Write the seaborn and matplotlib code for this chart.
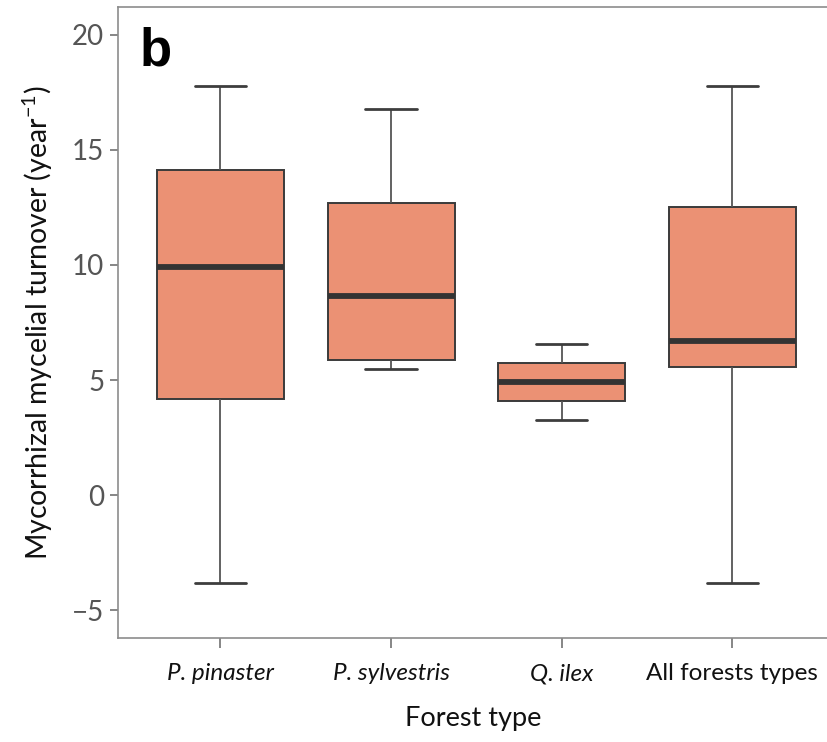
import numpy as np
import pandas as pd
import seaborn as sns
import matplotlib
matplotlib.use("Agg")
import matplotlib.pyplot as plt

# ---- data (five-number summaries) ----
categories = ["P. pinaster", "P. sylvestris", "Q. ilex", "All forests types"]
p_pinaster = [-3.83, 4.17, 9.91, 14.13, 17.78]
p_sylvestris = [5.48, 5.87, 8.65, 12.67, 16.78]
q_ilex = [3.27, 4.07, 4.90, 5.75, 6.55]
all_forests = [-3.83, 5.58, 6.71, 12.52, 17.78]
yticks = [-5, 0, 5, 10, 15, 20]

series = [p_pinaster, p_sylvestris, q_ilex, all_forests]
df = pd.DataFrame({
    "Forest type": np.repeat(categories, [len(s) for s in series]),
    "turnover": np.concatenate(series),
})

sns.set_theme(style="white")
plt.rcParams["font.family"] = ["Lato", "DejaVu Sans"]
plt.rcParams["mathtext.default"] = "regular"

fig = plt.figure(figsize=(8.28, 7.42), dpi=100)
ax = fig.add_axes([118 / 828, (742 - 638) / 742, 1 - 118 / 828, (638 - 7) / 742])

fill = "#EB9174"
edge = "#3a3a3a"
sns.boxplot(
    data=df, x="Forest type", y="turnover", order=categories,
    color=fill, saturation=1, width=0.745, whis=(0, 100), showfliers=False,
    linecolor=edge, linewidth=1.4, ax=ax,
    medianprops=dict(color="#333333", linewidth=4.2),
    whiskerprops=dict(color="#555555", linewidth=1.3),
    capprops=dict(color="#3d3d3d", linewidth=2.0),
    capwidths=0.30,
)

ax.set_xlim(-0.6, 3.56)
ax.set_ylim(-6.2, 21.2)
ax.set_yticks(yticks)
ax.set_yticklabels([str(t).replace("-", "\u2212") for t in yticks])

for side in ["left", "top", "bottom"]:
    ax.spines[side].set_visible(True)
    ax.spines[side].set_color("#8c8c8c")
    ax.spines[side].set_linewidth(1.2)
ax.spines["right"].set_visible(False)

ax.tick_params(axis="y", which="major", direction="out", length=6, width=1.1,
               color="#666666", labelsize=20, labelcolor="#555555", pad=4, left=True)
ax.tick_params(axis="x", which="major", direction="out", length=7, width=1.1,
               color="#666666", labelsize=17.5, labelcolor="#111111", pad=11, bottom=True)
for lab in ax.get_xticklabels():
    if lab.get_text() != "All forests types":
        lab.set_style("italic")

ax.set_xlabel("Forest type", fontsize=19.5, color="#111111", labelpad=16)
ax.set_ylabel("Mycorrhizal mycelial turnover (year$^{-1}$)", fontsize=20.5,
              color="#111111", labelpad=12)

fig.text(140 / 828, 1 - 65 / 742, "b", fontsize=38, fontweight="bold",
         family=["Liberation Sans", "DejaVu Sans"], color="black", va="baseline")

fig.savefig("out.png", dpi=100)
